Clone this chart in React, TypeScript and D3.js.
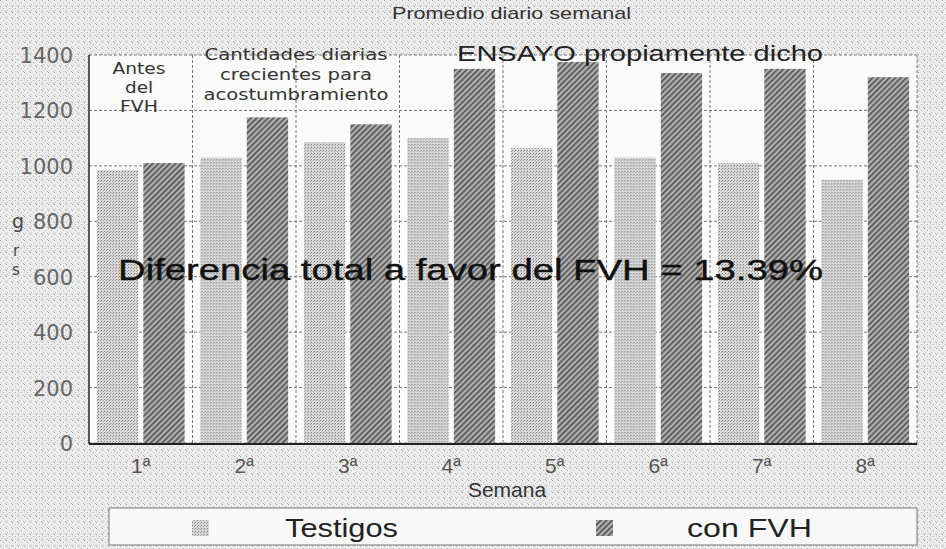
import React from 'react';
import * as d3 from 'd3';

const weeks = ['1ª', '2ª', '3ª', '4ª', '5ª', '6ª', '7ª', '8ª'];
const seriesNames = ['Testigos', 'con FVH'];
const testigos = [985, 1030, 1085, 1100, 1065, 1030, 1010, 950];
const conFVH = [1010, 1175, 1150, 1350, 1375, 1335, 1350, 1320];
const yTicks = [0, 200, 400, 600, 800, 1000, 1200, 1400];

const W = 946;
const H = 549;
const L = 89;
const R = 917;
const T = 55;
const B = 443;

const narrow = '"Liberation Sans Narrow", "Liberation Sans", Arial, sans-serif';
const sans = '"Liberation Sans", Arial, sans-serif';
const wide = '"DejaVu Sans", Verdana, sans-serif';

export default function App() {
  const x = d3.scaleBand<string>().domain(weeks).range([L, R]).padding(0);
  const xi = d3
    .scaleBand<string>()
    .domain(seriesNames)
    .range([0, x.bandwidth()])
    .paddingInner(0.11)
    .paddingOuter(0.17);
  const y = d3.scaleLinear().domain([0, 1400]).range([B, T]);

  const rows = weeks.map((w, i) => ({ w, vals: [testigos[i], conFVH[i]] }));
  const fills = ['url(#patT)', 'url(#patF)'];

  return (
    <svg
      width={W}
      height={H}
      style={{ position: 'absolute', left: 0, top: 0, display: 'block' }}
      xmlns="http://www.w3.org/2000/svg"
    >
      <defs>
        <pattern id="noise" width="6" height="6" patternUnits="userSpaceOnUse">
          <rect width="6" height="6" fill="#ececec" />
          <rect x="0" y="0" width="1" height="1" fill="#a0a0a0" />
          <rect x="3" y="2" width="1" height="1" fill="#b8b8b8" />
          <rect x="1" y="4" width="1" height="1" fill="#c4c4c4" />
          <rect x="5" y="5" width="1" height="1" fill="#b0b0b0" />
        </pattern>
        <pattern id="patT" width="3" height="3" patternUnits="userSpaceOnUse">
          <rect width="3" height="3" fill="#d8d8d8" />
          <rect x="0" y="0" width="1" height="1" fill="#7a7a7a" />
          <rect x="2" y="1" width="1" height="1" fill="#a0a0a0" />
        </pattern>
        <pattern
          id="patF"
          width="4"
          height="4"
          patternUnits="userSpaceOnUse"
          patternTransform="rotate(45)"
        >
          <rect width="4" height="4" fill="#b0b0b0" />
          <rect x="0" y="0" width="1.6" height="4" fill="#505050" />
        </pattern>
      </defs>

      <rect x={0} y={0} width={W} height={H} fill="url(#noise)" />

      {/* plot background */}
      <rect x={L} y={T} width={R - L} height={B - T} fill="#fbfbfb" />

      {/* horizontal grid */}
      {yTicks.map((t) => (
        <line
          key={'g' + t}
          x1={L}
          x2={R}
          y1={y(t)}
          y2={y(t)}
          stroke="#777"
          strokeWidth={1}
          strokeDasharray="3,2"
        />
      ))}
      {/* vertical grid at category boundaries */}
      {weeks.map((w) => (
        <line
          key={'v' + w}
          x1={(x(w) as number) + x.bandwidth()}
          x2={(x(w) as number) + x.bandwidth()}
          y1={T}
          y2={B}
          stroke="#777"
          strokeWidth={1}
          strokeDasharray="3,2"
        />
      ))}

      {/* bars */}
      {rows.map((r) => (
        <g key={r.w} transform={`translate(${x(r.w)},0)`}>
          {r.vals.map((v, j) => (
            <rect
              key={j}
              x={xi(seriesNames[j])}
              y={y(v)}
              width={xi.bandwidth()}
              height={B - y(v)}
              fill={fills[j]}
            />
          ))}
        </g>
      ))}

      {/* axes */}
      <line x1={L} x2={L} y1={T} y2={B + 1} stroke="#222" strokeWidth={1.5} />
      <line x1={L} x2={R} y1={B + 1} y2={B + 1} stroke="#222" strokeWidth={2} />

      {/* y tick labels */}
      {yTicks.map((t) => (
        <text
          key={'yl' + t}
          x={73}
          y={y(t) + 8}
          textAnchor="end"
          fontFamily={wide}
          fontSize={21}
          fill="#666"
        >
          {t}
        </text>
      ))}
      <text x={12} y={228} fontFamily={wide} fontSize={19} fill="#444">g</text>
      <text x={13} y={256} fontFamily={wide} fontSize={15} fill="#444">r</text>
      <text x={12} y={275} fontFamily={wide} fontSize={15} fill="#444">s</text>

      {/* x tick labels */}
      {weeks.map((w) => (
        <text
          key={'xl' + w}
          x={(x(w) as number) + x.bandwidth() / 2}
          y={473}
          textAnchor="middle"
          fontFamily={sans}
          fontSize={21}
          fill="#555"
        >
          {w}
        </text>
      ))}
      <text x={507} y={497} textAnchor="middle" fontFamily={narrow} fontSize={21} fill="#333">
        Semana
      </text>

      {/* title */}
      <text
        x={392}
        y={19}
        fontFamily={narrow}
        fontSize={17}
        fill="#333"
        textLength={239}
        lengthAdjust="spacingAndGlyphs"
      >
        Promedio diario semanal
      </text>

      {/* annotations */}
      <g fontFamily={wide} fontSize={16} fill="#333" textAnchor="middle">
        <text x={139} y={74} textLength={53} lengthAdjust="spacingAndGlyphs">Antes</text>
        <text x={139} y={93} textLength={28} lengthAdjust="spacingAndGlyphs">del</text>
        <text x={139} y={112} textLength={38} lengthAdjust="spacingAndGlyphs">FVH</text>
        <text x={296} y={60} textLength={183} lengthAdjust="spacingAndGlyphs">Cantidades diarias</text>
        <text x={296} y={80} textLength={152} lengthAdjust="spacingAndGlyphs">crecientes para</text>
        <text x={296} y={100} textLength={185} lengthAdjust="spacingAndGlyphs">acostumbramiento</text>
      </g>
      <text
        x={457}
        y={61}
        fontFamily={sans}
        fontSize={22}
        fill="#222"
        textLength={366}
        lengthAdjust="spacingAndGlyphs"
      >
        ENSAYO propiamente dicho
      </text>
      <text
        x={118}
        y={280}
        fontFamily={sans}
        fontSize={30}
        fill="#111"
        stroke="#111"
        strokeWidth={0.4}
        textLength={705}
        lengthAdjust="spacingAndGlyphs"
      >
        Diferencia total a favor del FVH = 13.39%
      </text>

      {/* legend */}
      <rect x={109} y={508} width={808} height={37} fill="#f8f8f8" stroke="#777" strokeWidth={1} />
      <rect x={192} y={520} width={17} height={16} fill={fills[0]} />
      <text
        x={285}
        y={537}
        fontFamily={sans}
        fontSize={26}
        fill="#222"
        textLength={113}
        lengthAdjust="spacingAndGlyphs"
      >
        {seriesNames[0]}
      </text>
      <rect x={596} y={520} width={17} height={16} fill={fills[1]} />
      <text
        x={687}
        y={537}
        fontFamily={sans}
        fontSize={25}
        fill="#222"
        textLength={125}
        lengthAdjust="spacingAndGlyphs"
      >
        {seriesNames[1]}
      </text>
    </svg>
  );
}
